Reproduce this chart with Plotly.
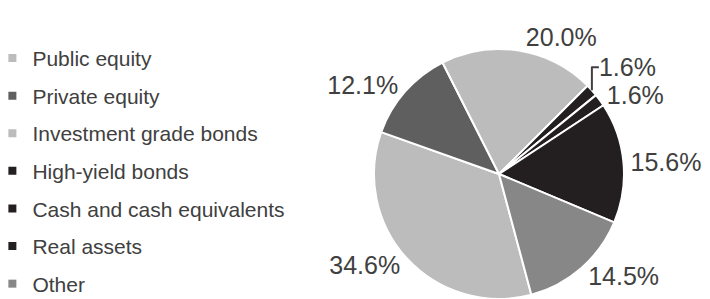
import plotly.graph_objects as go

categories = ["Public equity", "Private equity", "Investment grade bonds",
              "High-yield bonds", "Cash and cash equivalents", "Real assets", "Other"]
values = [34.6, 12.1, 20.0, 1.6, 1.6, 15.6, 14.5]
colors = ["#bcbcbc", "#5f5f5f", "#bcbcbc", "#231f20", "#231f20", "#231f20", "#878787"]

W, H = 710, 299
cx, cy, r = 491, 166, 125

fig = go.Figure()
fig.add_trace(go.Pie(
    labels=categories, values=values, sort=False, direction="clockwise", rotation=165,
    marker=dict(colors=colors, line=dict(color="white", width=2)),
    texttemplate="%{value:.1f}%", textposition="outside",
    textfont=dict(family="Liberation Sans, Arial", size=25, color="#404040"),
    showlegend=False, hoverinfo="label+value",
    domain=dict(x=[(cx - r) / W, (cx + r) / W], y=[(H - cy - r) / H, (H - cy + r) / H]),
))
for i, (c, col) in enumerate(zip(categories, colors)):
    fig.add_trace(go.Scatter(
        x=[None], y=[None], mode="markers", name=c, legendgroup=f"g{i}",
        marker=dict(symbol="square", size=8, color=col),
    ))

fig.update_layout(
    width=W, height=H, margin=dict(l=0, r=0, t=0, b=0, autoexpand=False),
    paper_bgcolor="white", plot_bgcolor="white",
    xaxis=dict(visible=False), yaxis=dict(visible=False),
    legend=dict(
        x=-0.022, xanchor="left", y=0.9, yanchor="top",
        font=dict(family="Liberation Sans, Arial", size=21, color="#404040"),
        tracegroupgap=7.3, traceorder="grouped", itemsizing="trace",
        bgcolor="rgba(0,0,0,0)",
    ),
)
fig.write_html("out.html")
